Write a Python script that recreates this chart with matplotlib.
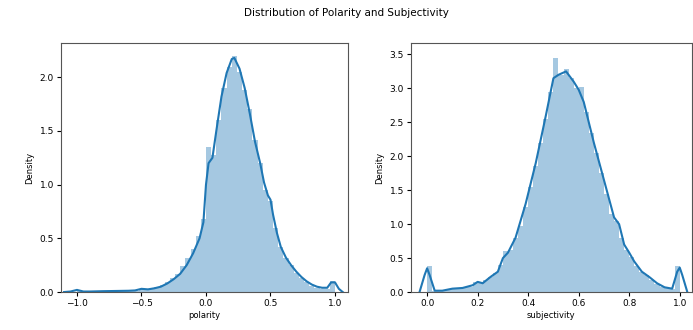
import numpy as np
import matplotlib
matplotlib.use("Agg")
import matplotlib.pyplot as plt

# histogram bars (bin centres and density heights)
pol_bin_centers = np.round(np.arange(-0.98, 1.0, 0.04), 2)
pol_heights = [0.02, 0.01, 0.005, 0.005, 0.005, 0.005, 0.008, 0.008, 0.01, 0.01,
               0.01, 0.012, 0.03, 0.02, 0.03, 0.05, 0.07, 0.09, 0.13, 0.17,
               0.24, 0.32, 0.40, 0.52, 0.68, 1.35, 1.28, 1.60, 1.90, 2.10,
               2.20, 2.05, 1.88, 1.70, 1.42, 1.20, 0.95, 0.85, 0.60, 0.42,
               0.32, 0.25, 0.18, 0.13, 0.09, 0.06, 0.04, 0.03, 0.03, 0.10]
pol_bin_width = 0.04

sub_bin_centers = np.round(np.arange(0.01, 1.0, 0.02), 2)
sub_heights = [0.38, 0.02, 0.02, 0.03, 0.04, 0.05, 0.05, 0.07, 0.08, 0.15,
               0.14, 0.18, 0.22, 0.28, 0.40, 0.60, 0.62, 0.80, 0.98, 1.25,
               1.55, 1.85, 2.20, 2.55, 2.95, 3.45, 3.20, 3.28, 3.15, 3.00,
               3.02, 2.65, 2.35, 2.05, 1.75, 1.45, 1.15, 1.05, 0.80, 0.62,
               0.52, 0.38, 0.30, 0.25, 0.18, 0.12, 0.08, 0.06, 0.05, 0.38]
sub_bin_width = 0.02

# kde curves
pol_kde_x = [-1.10, -1.05, -1.0, -0.95, -0.9, -0.8, -0.7, -0.6, -0.55, -0.5, -0.45,
             -0.4, -0.35, -0.3, -0.25, -0.2, -0.15, -0.1, -0.05, -0.02, 0.0, 0.02,
             0.05, 0.08, 0.12, 0.16, 0.2, 0.22, 0.26, 0.3, 0.34, 0.38, 0.42, 0.45,
             0.48, 0.5, 0.52, 0.55, 0.58, 0.62, 0.66, 0.7, 0.74, 0.78, 0.82, 0.86,
             0.9, 0.94, 0.97, 1.0, 1.03, 1.06]
pol_kde_y = [0.0, 0.005, 0.02, 0.005, 0.005, 0.008, 0.01, 0.012, 0.015, 0.03, 0.025,
             0.035, 0.05, 0.08, 0.12, 0.17, 0.25, 0.36, 0.50, 0.65, 1.00, 1.20,
             1.25, 1.50, 1.82, 2.04, 2.17, 2.18, 2.08, 1.90, 1.66, 1.40, 1.20, 1.02,
             0.90, 0.86, 0.72, 0.55, 0.42, 0.32, 0.25, 0.19, 0.14, 0.10, 0.07, 0.05,
             0.04, 0.04, 0.09, 0.09, 0.03, 0.0]

sub_kde_x = [-0.03, -0.01, 0.0, 0.01, 0.03, 0.06, 0.1, 0.14, 0.18, 0.2, 0.22, 0.25,
             0.28, 0.3, 0.32, 0.35, 0.39, 0.43, 0.47, 0.5, 0.52, 0.55, 0.58, 0.6,
             0.62, 0.66, 0.7, 0.74, 0.76, 0.78, 0.8, 0.82, 0.85, 0.88, 0.91, 0.94,
             0.97, 0.99, 1.0, 1.01, 1.03]
sub_kde_y = [0.0, 0.25, 0.35, 0.25, 0.02, 0.02, 0.05, 0.06, 0.10, 0.15, 0.13, 0.22,
             0.30, 0.50, 0.58, 0.80, 1.30, 1.90, 2.60, 3.15, 3.20, 3.25, 3.10, 2.98,
             2.80, 2.20, 1.65, 1.10, 1.00, 0.70, 0.58, 0.45, 0.30, 0.22, 0.13, 0.07,
             0.05, 0.30, 0.36, 0.25, 0.0]

pol_xticks = [-1.0, -0.5, 0.0, 0.5, 1.0]
pol_yticks = [0.0, 0.5, 1.0, 1.5, 2.0]
sub_xticks = [0.0, 0.2, 0.4, 0.6, 0.8, 1.0]
sub_yticks = [0.0, 0.5, 1.0, 1.5, 2.0, 2.5, 3.0, 3.5]

fig = plt.figure(figsize=(6.93, 3.3), dpi=100)
ax1 = fig.add_axes([0.088, 0.115, 0.414, 0.755])
ax2 = fig.add_axes([0.593, 0.115, 0.405, 0.755])

color = "#1f77b4"

ax1.bar(pol_bin_centers, pol_heights, width=pol_bin_width, color=color, alpha=0.4, linewidth=0)
ax1.plot(pol_kde_x, pol_kde_y, color=color, lw=1.5)
ax1.set_xlim(-1.124, 1.10)
ax1.set_ylim(0, 2.32)
ax1.set_xticks(pol_xticks)
ax1.set_yticks(pol_yticks)
ax1.set_xlabel("polarity", fontsize=6, labelpad=2)
ax1.set_ylabel("Density", fontsize=6, labelpad=4)

ax2.bar(sub_bin_centers, sub_heights, width=sub_bin_width, color=color, alpha=0.4, linewidth=0)
ax2.plot(sub_kde_x, sub_kde_y, color=color, lw=1.5)
ax2.set_xlim(-0.064, 1.047)
ax2.set_ylim(0, 3.67)
ax2.set_xticks(sub_xticks)
ax2.set_yticks(sub_yticks)
ax2.set_xlabel("subjectivity", fontsize=6, labelpad=2)
ax2.set_ylabel("Density", fontsize=6, labelpad=4)

for ax in (ax1, ax2):
    ax.tick_params(labelsize=6.5, length=3, pad=2)
    for s in ax.spines.values():
        s.set_color("#555555")

fig.suptitle("Distribution of Polarity and Subjectivity", fontsize=7.5, y=0.975)

fig.savefig("out.png", dpi=100)
